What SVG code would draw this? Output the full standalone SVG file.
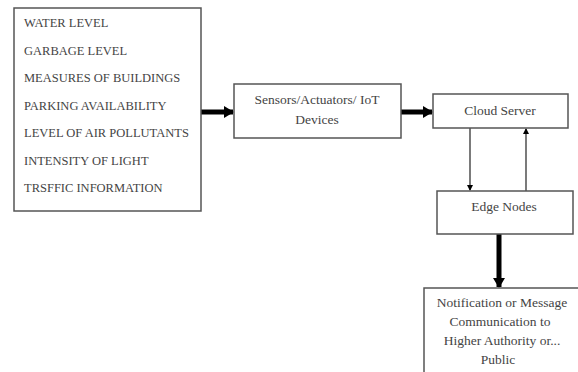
<svg xmlns="http://www.w3.org/2000/svg" width="578" height="372" viewBox="0 0 578 372">
<style>
.box{fill:#fff;stroke:#555;stroke-width:1.5}
text{font-family:'Liberation Serif','Times New Roman',Times,'DejaVu Serif',serif;fill:#444}
.list{font-size:12.5px}
.n{font-size:13.5px;text-anchor:middle}
.thick{stroke:#000;stroke-width:5;fill:none}
.thin{stroke:#333;stroke-width:1.3;fill:none}
</style>
<defs>
<marker id="big" markerUnits="userSpaceOnUse" markerWidth="10" markerHeight="12" refX="9" refY="6" orient="auto">
<path d="M0,0 L10,6 L0,12 Z" fill="#000"/>
</marker>
<marker id="small" markerUnits="userSpaceOnUse" markerWidth="6" markerHeight="6" refX="5" refY="3" orient="auto">
<path d="M0,0 L6,3 L0,6 Z" fill="#000"/>
</marker>
</defs>
<rect width="578" height="372" fill="#fff"/>
<g id="connectors">
<line class="thick" x1="201" y1="112" x2="233" y2="112" marker-end="url(#big)"/>
<line class="thick" x1="401" y1="112" x2="432" y2="112" marker-end="url(#big)"/>
<line class="thin" x1="470" y1="128" x2="470" y2="190" marker-end="url(#small)"/>
<line class="thin" x1="526" y1="191" x2="526" y2="129" marker-end="url(#small)"/>
<line class="thick" x1="499" y1="234" x2="499" y2="287" marker-end="url(#big)"/>
</g>
<g id="inputs" font-family="Liberation Serif, serif">
<rect class="box" x="14" y="8" width="187" height="203"/>
<text class="list" x="24" y="27">WATER LEVEL</text>
<text class="list" x="24" y="55">GARBAGE LEVEL</text>
<text class="list" x="24" y="82">MEASURES OF BUILDINGS</text>
<text class="list" x="24" y="110">PARKING AVAILABILITY</text>
<text class="list" x="24" y="137">LEVEL OF AIR POLLUTANTS</text>
<text class="list" x="24" y="165">INTENSITY OF LIGHT</text>
<text class="list" x="24" y="192">TRSFFIC INFORMATION</text>
</g>
<g id="sensors">
<rect class="box" x="234" y="84" width="167" height="54"/>
<text class="n" x="317" y="104">Sensors/Actuators/ IoT</text>
<text class="n" x="317" y="124">Devices</text>
</g>
<g id="cloud">
<rect class="box" x="433" y="94" width="135" height="34"/>
<text class="n" x="500" y="115">Cloud Server</text>
</g>
<g id="edge">
<rect class="box" x="437" y="191" width="136" height="43"/>
<text class="n" x="504" y="211">Edge Nodes</text>
</g>
<g id="notification">
<rect class="box" x="424" y="288" width="170" height="100"/>
<text class="n" x="502" y="307">Notification or Message</text>
<text class="n" x="500" y="326">Communication to</text>
<text class="n" x="502" y="345">Higher Authority or...</text>
<text class="n" x="498" y="364">Public</text>
</g>
</svg>
